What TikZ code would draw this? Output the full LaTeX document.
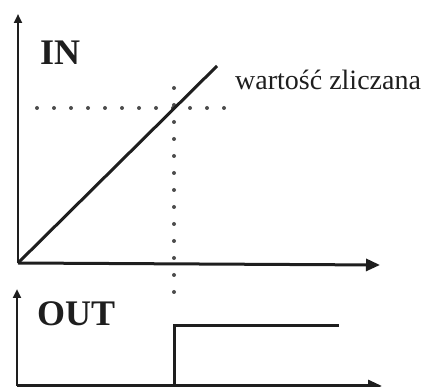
\documentclass[tikz,border=0pt]{standalone}
\usepackage{fontspec}
\setmainfont{Liberation Serif}
\usetikzlibrary{arrows.meta}
\definecolor{tinta}{RGB}{30,30,30}
\tikzset{
    eixo/.style={draw=tinta, line width=3pt, -{Triangle[length=14pt,width=12pt]}},
    eixoy/.style={draw=tinta, line width=2.4pt, -{Triangle[length=9pt,width=8pt]}},
    sinal/.style={draw=tinta, line width=3pt},
    pontos/.style={draw=gray!60!black, line width=4pt, line cap=round, dash pattern=on 0pt off 17pt},
    titulo/.style={font=\fontsize{36}{40}\selectfont\bfseries, text=tinta, inner sep=0pt, anchor=base west},
    rotulo/.style={font=\fontsize{28}{32}\selectfont, text=tinta, inner sep=0pt, anchor=base west}
}

\begin{document}
\begin{tikzpicture}[x=1pt, y=-1pt]
    \useasboundingbox (0,0) rectangle (434,387);
    % IN
    \coordinate (o1) at (18,263);
    \coordinate (y1) at (18,14);
    \coordinate (x1) at (380,265);
    \coordinate (r1) at (217,66);
    \coordinate (h0) at (37,108);
    \coordinate (h1) at (240,108);
    \coordinate (v0) at (174,88);
    \coordinate (v1) at (174,305);
    \draw[pontos] (h0) -- (h1);
    \draw[pontos] (v0) -- (v1);
    \draw[eixoy] (o1) -- (y1);
    \draw[eixo] (o1) -- (x1);
    \draw[sinal] (o1) -- (r1);
    \node[titulo] (in) at (40,65) {IN};
    \node[rotulo] (wz) at (235,90) {wartość zliczana};
    % OUT
    \coordinate (o2) at (17,386);
    \coordinate (y2) at (17,289);
    \coordinate (x2) at (382,386);
    \coordinate (s0) at (174,390);
    \coordinate (s1) at (174,326);
    \coordinate (s2) at (339,326);
    \draw[eixoy] (o2) -- (y2);
    \draw[eixo] (o2) -- (x2);
    \draw[sinal] (s0) -- (s1) -- (s2);
    \node[titulo] (out) at (37,326) {OUT};
\end{tikzpicture}
\end{document}
